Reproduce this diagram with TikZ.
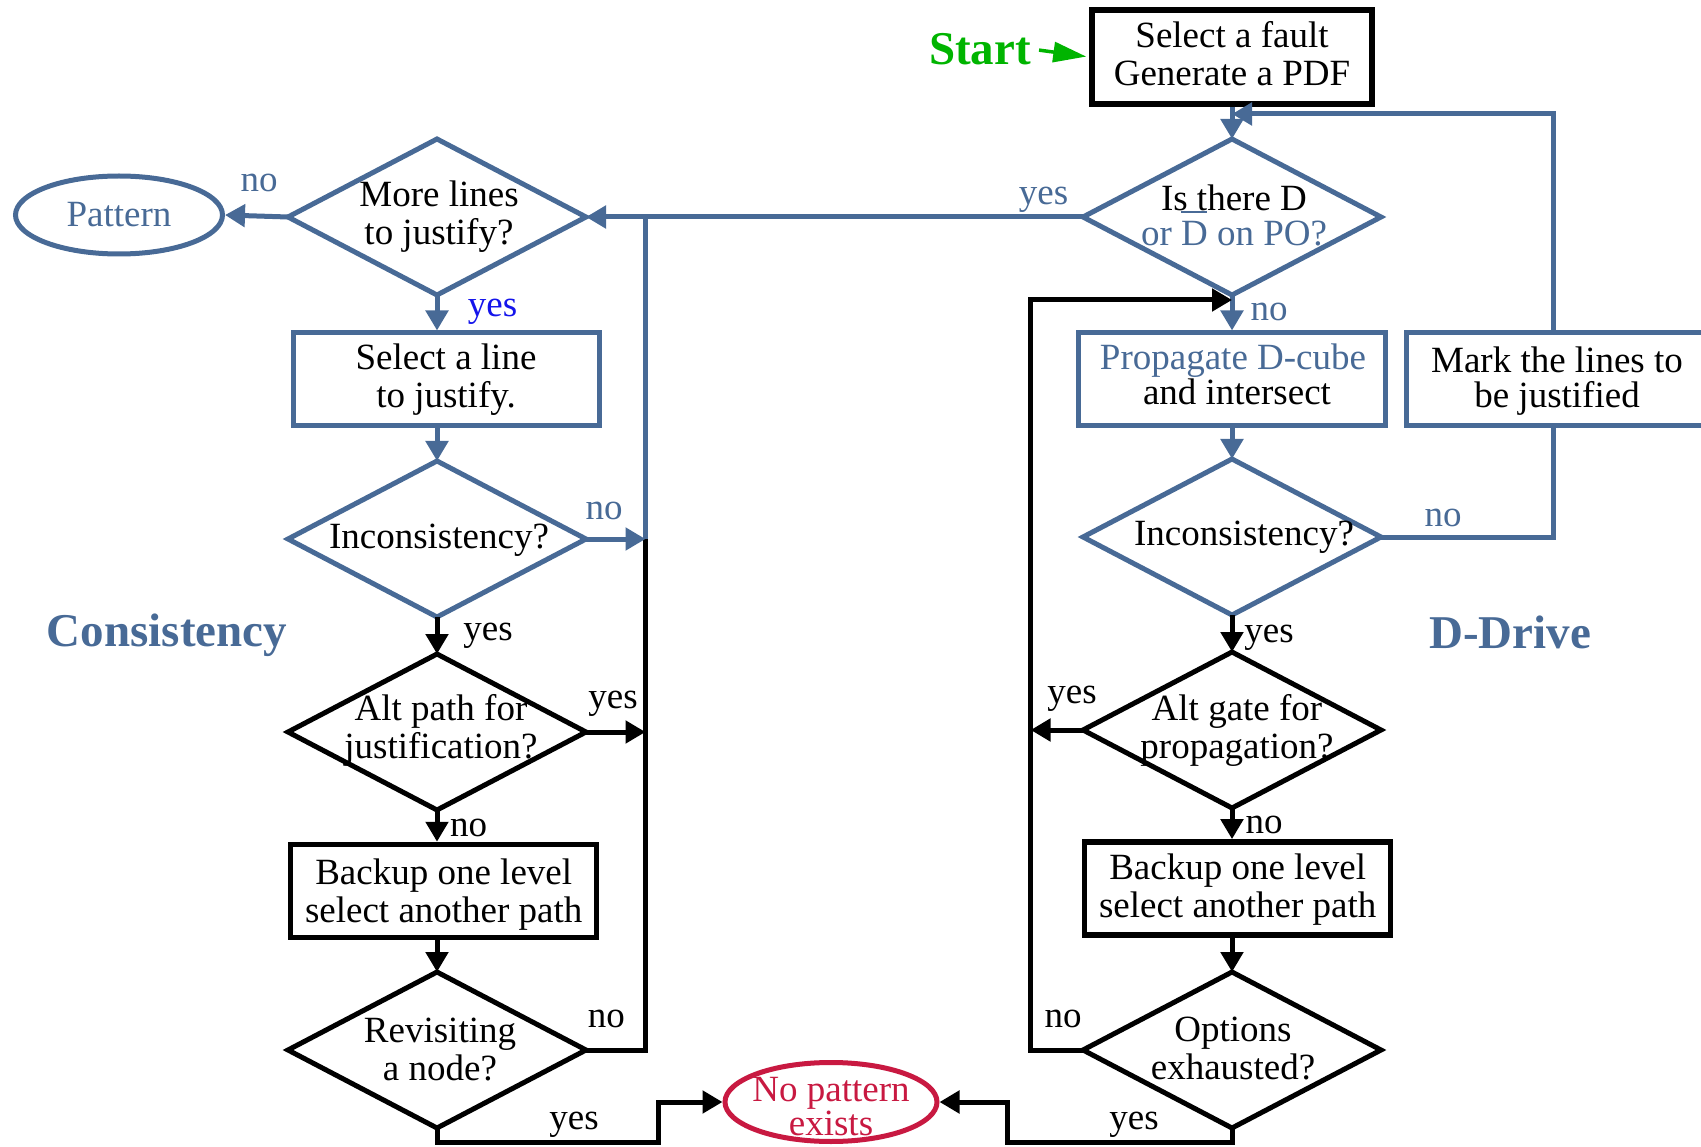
\documentclass[tikz,border=0pt]{standalone}
\usepackage{fontspec}
\setmainfont{Liberation Serif}
\usetikzlibrary{shapes.geometric,arrows.meta}
\definecolor{blu}{RGB}{72,106,150}
\definecolor{bry}{RGB}{20,20,235}
\definecolor{grn}{RGB}{0,180,0}
\definecolor{crim}{RGB}{200,25,65}
\newcommand{\fsz}{\fontsize{37}{38}\selectfont}
\newcommand{\hsz}{\fontsize{47}{50}\selectfont\bfseries}
\begin{document}
\begin{tikzpicture}[x=1pt,y=-1pt,
 txt/.style={font=\fsz, align=center, inner sep=0pt},
 bln/.style={draw=blu, line width=5pt},
 kln/.style={draw=black, line width=5pt},
 barr/.style={bln, -{Triangle[length=20pt,width=22pt]}},
 karr/.style={kln, -{Triangle[length=20pt,width=22pt]}},
 bbox/.style={txt, rectangle, draw=blu, line width=5pt, minimum height=93pt},
 kbox/.style={txt, rectangle, draw=black, line width=5.5pt, minimum height=93pt, minimum width=306pt},
 dia/.style={diamond, inner sep=0pt, outer sep=0pt, minimum width=298pt, minimum height=156pt, line width=5pt},
 bdia/.style={dia, draw=blu},
 kdia/.style={dia, draw=black},
 blbl/.style={txt, text=blu},
 klbl/.style={txt},
 head/.style={inner sep=0pt, font=\hsz},
]
\useasboundingbox (0,0) rectangle (1701,1147);

% helper coordinates
\coordinate (busL) at (645.5,0);
\coordinate (busR) at (1030.6,0);
\coordinate (mx) at (1553.5,0);
\coordinate (ytop) at (0,114);
\coordinate (yblk) at (0,300);
\coordinate (ybot) at (0,1142);
\coordinate (xl) at (658.5,0);
\coordinate (xr) at (1007.8,0);

% start
\node[head, text=grn] (st) at (980,49) {Start};
\node[kbox, minimum width=280pt, minimum height=94pt] (sf) at (1232,57) {};
\node[txt] (tsf) at (1232,53.2) {Select a fault\\Generate a PDF};
\draw[grn, line width=3.5pt, -{Triangle[length=33pt,width=20pt]}, shorten <=8pt, shorten >=3pt] (st.east) -- (sf.west);

% left column
\node[bdia] (more) at (437,217) {};
\node[txt] (tmore) at (439,216.3) {More lines\\to justify?};
\node[txt, text=blu, ellipse, draw=blu, line width=5pt, minimum width=207pt, minimum height=78pt] (pat) at (119,215) {Pattern};
\node[bbox, minimum width=306pt] (sel) at (446,379.5) {Select a line\\to justify.};
\node[bdia] (incL) at (437,539) {};
\node[txt] (tincL) at (439,540.3) {Inconsistency?};
\node[kdia] (altP) at (437,732) {};
\node[txt] (taltP) at (441,730.3) {Alt path for\\justification?};
\node[kbox] (bkL) at (443.7,891) {};
\node[txt] (tbkL) at (443.7,894.3) {Backup one level\\select another path};
\node[kdia] (rev) at (437,1050) {};
\node[txt] (trev) at (440,1049.2) {Revisiting\\a node?};

% no pattern
\node[ellipse, draw=crim, line width=5pt, minimum width=212pt, minimum height=79pt, inner sep=0pt] (nop) at (831,1102) {};
\node[txt, text=crim, font=\fontsize{37}{26.7}\selectfont] (tnop) at (831,1106.7) {No pattern\\exists};

% right column
\node[bdia] (isD) at (1232,217) {};
\node[txt, font=\fontsize{37}{35}\selectfont] (tisD) at (1234,215) {Is there D\\\textcolor{blu}{or \smash{\rlap{\rule[32pt]{26pt}{2.5pt}}}D on PO?}};
\node[bbox, minimum width=307pt] (prop) at (1231.8,379.5) {};
\node[txt, font=\fontsize{37}{34.7}\selectfont] (tprop) at (1233,374.6) {\textcolor{blu}{Propagate D-cube}\\\hspace*{8pt}and intersect};
\node[bbox, minimum width=302pt] (mark) at (1557,379.5) {};
\node[txt, font=\fontsize{37}{35}\selectfont] (tmark) at (1557,381.5) {Mark the lines to\\be justified};
\node[bdia] (incR) at (1232,537) {};
\node[txt] (tincR) at (1244,537.3) {Inconsistency?};
\node[kdia] (altG) at (1232,730) {};
\node[txt] (taltG) at (1237,730.3) {Alt gate for\\propagation?};
\node[kbox] (bkR) at (1237.7,888.4) {};
\node[txt] (tbkR) at (1237.7,890) {Backup one level\\select another path};
\node[kdia] (opt) at (1232,1050) {};
\node[txt] (topt) at (1233,1048.2) {Options\\exhausted?};

% headings
\node[head, text=blu] (hc) at (167,635.3) {Consistency};
\node[head, text=blu] (hd) at (1510,632) {D-Drive};

% connectors
\draw[barr] (sf.south) -- (isD.north);
\draw[barr] (mx |- mark.north) |- (sf.south |- ytop);
\draw[barr] (isD.west) -- (more.east);
\draw[barr] (more.west) -- (pat.east);
\draw[barr] (more.south) -- (more.south |- sel.north);
\draw[barr] (incL.north |- sel.south) -- (incL.north);
\draw[bln] (busL |- incL.east) -- (busL |- more.east);
\draw[kln] (rev.east) -| (busL |- incL.east);
\draw[barr] (incL.east) -- (busL |- incL.east);
\draw[karr] (altP.east) -- (busL |- altP.east);
\draw[karr] (incL.south) -- (altP.north);
\draw[karr] (altP.south) -- (altP.south |- bkL.north);
\draw[karr] (rev.north |- bkL.south) -- (rev.north);
\draw[karr] (rev.south) -- (rev.south |- ybot) -| (xl |- nop.west) -- (nop.west);
\draw[karr] (opt.south) -- (opt.south |- ybot) -| (xr |- nop.east) -- (nop.east);
\draw[barr] (isD.south) -- (isD.south |- prop.north);
\draw[karr] (opt.west) -| (busR |- yblk) -- (isD.south |- yblk);
\draw[karr] (altG.west) -- (busR |- altG.west);
\draw[barr] (incR.north |- prop.south) -- (incR.north);
\draw[bln] (incR.east) -| (mx |- mark.south);
\draw[karr] (incR.south) -- (altG.north);
\draw[karr] (altG.south) -- (altG.south |- bkR.north);
\draw[karr] (opt.north |- bkR.south) -- (opt.north);

% labels
\node[blbl] (l1) at (1043.6,199.5) {yes};
\node[blbl] (l2) at (259,182.5) {no};
\node[txt, text=bry] (l3) at (492.5,311.5) {yes};
\node[blbl] (l4) at (604,510.5) {no};
\node[klbl] (l5) at (488,635.5) {yes};
\node[klbl] (l6) at (613,704) {yes};
\node[klbl] (l7) at (468.6,828) {no};
\node[klbl] (l8) at (606.4,1019) {no};
\node[klbl] (l9) at (574,1125) {yes};
\node[blbl] (l10) at (1269,311.5) {no};
\node[blbl] (l11) at (1443,517.5) {no};
\node[klbl] (l12) at (1269,637.5) {yes};
\node[klbl] (l13) at (1072,698.5) {yes};
\node[klbl] (l14) at (1264,824.5) {no};
\node[klbl] (l15) at (1063,1018.5) {no};
\node[klbl] (l16) at (1134,1125) {yes};
\end{tikzpicture}
\end{document}
